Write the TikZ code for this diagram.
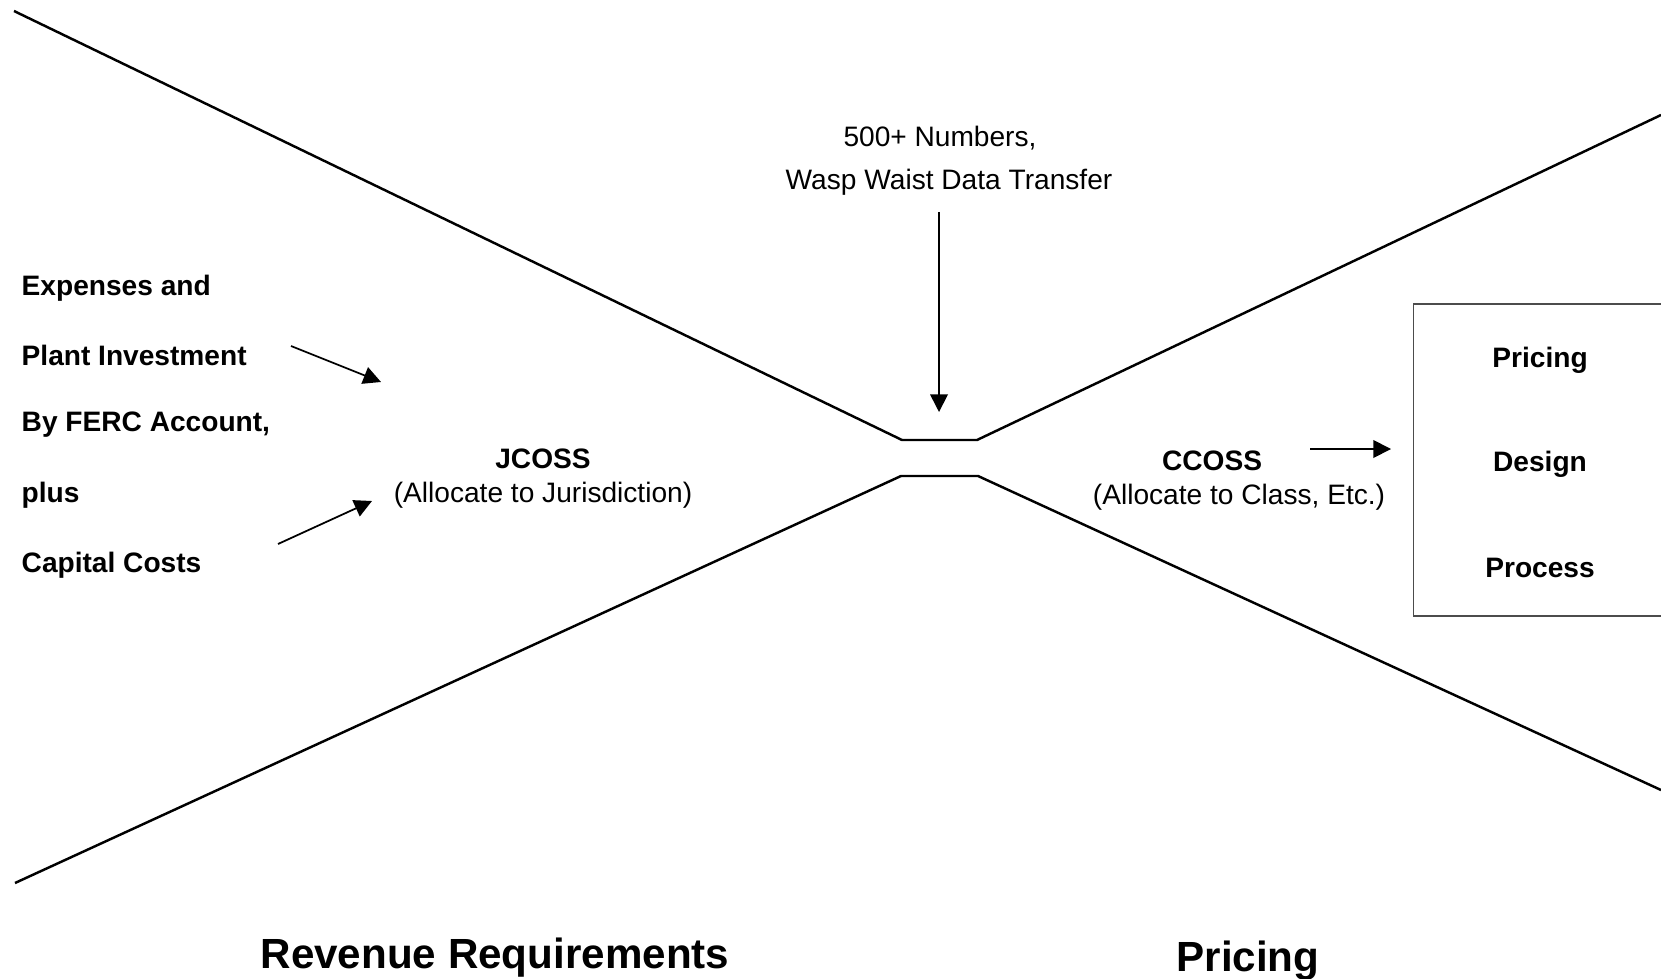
\documentclass[tikz,border=0pt]{standalone}
\usepackage{fontspec}
\setmainfont{Liberation Sans}
\usetikzlibrary{arrows.meta,positioning}

\begin{document}
\begin{tikzpicture} [{lbl/.style={font=\fontsize{8}{9.6}\selectfont\bfseries,inner sep=0pt,anchor=west}},{txt/.style={font=\fontsize{8}{9.6}\selectfont,inner sep=0pt}},{head/.style={font=\fontsize{12}{14}\selectfont\bfseries,inner sep=0pt}},{arr/.style={-{Triangle[length=5pt,width=5pt]},line width=0.5pt}},{glass/.style={line width=0.7pt}}]
	\useasboundingbox (0,0) rectangle (16.61,9.78);
	%%corners of the hourglass
	\coordinate (TL) at (0.14,9.67);
	\coordinate (WTL) at (9.02,5.38);
	\coordinate (WTR) at (9.77,5.38);
	\coordinate (TR) at (16.61,8.63);
	\coordinate (BL) at (0.15,0.95);
	\coordinate (WBL) at (9.01,5.02);
	\coordinate (WBR) at (9.78,5.02);
	\coordinate (BR) at (16.61,1.88);
	%%hourglass
	\draw [glass] (TL)--(WTL)--(WTR)--(TR);
	\draw [glass] (BL)--(WBL)--(WBR)--(BR);

	%%waist data transfer
	\node [txt] (num) at (9.40,8.40) {500+ Numbers,};
	\node [txt] (wasp) at (9.49,7.96) {Wasp Waist Data Transfer};
	\coordinate (waspA) at (9.39,7.66);
	\coordinate (waspB) at (9.39,5.66);
	\draw [arr] (waspA) -- (waspB);

	%%inputs
	\node [lbl] (exp) at (0.21,6.90) {Expenses and};
	\node [lbl] (plant) at (0.21,6.23) {Plant Investment};
	\node [lbl] (ferc) at (0.21,5.53) {By FERC Account,};
	\node [lbl] (plus) at (0.21,4.83) {plus};
	\node [lbl] (cap) at (0.21,4.13) {Capital Costs};
	\coordinate (inA) at (2.91,6.32);
	\coordinate (inB) at (3.81,5.96);
	\coordinate (inC) at (2.78,4.34);
	\coordinate (inD) at (3.72,4.77);
	\draw [arr] (inA) -- (inB);
	\draw [arr] (inC) -- (inD);

	%%jurisdiction side
	\node [txt,font=\fontsize{8}{9.6}\selectfont\bfseries] (jcoss) at (5.43,5.19) {JCOSS};
	\node [txt] (jnote) at (5.43,4.83) {(Allocate to Jurisdiction)};

	%%class side
	\node [txt,font=\fontsize{8}{9.6}\selectfont\bfseries] (ccoss) at (12.12,5.17) {CCOSS};
	\node [txt] (cnote) at (12.39,4.81) {(Allocate to Class, Etc.)};
	\coordinate (outA) at (13.10,5.29);
	\coordinate (outB) at (13.91,5.29);
	\draw [arr] (outA) -- (outB);

	%%pricing box
	\draw [line width=0.3pt,black!70] (16.80,6.74) -- (14.13,6.74) -- (14.13,3.62) -- (16.80,3.62);
	\node [txt,font=\fontsize{8}{9.6}\selectfont\bfseries] (pri) at (15.40,6.18) {Pricing};
	\node [txt,font=\fontsize{8}{9.6}\selectfont\bfseries] (des) at (15.40,5.14) {Design};
	\node [txt,font=\fontsize{8}{9.6}\selectfont\bfseries] (pro) at (15.40,4.10) {Process};

	%%headings
	\node [head] (rev) at (4.95,0.20) {Revenue Requirements};
	\node [head] (prc) at (12.48,0.17) {Pricing};
\end{tikzpicture}
\end{document}
